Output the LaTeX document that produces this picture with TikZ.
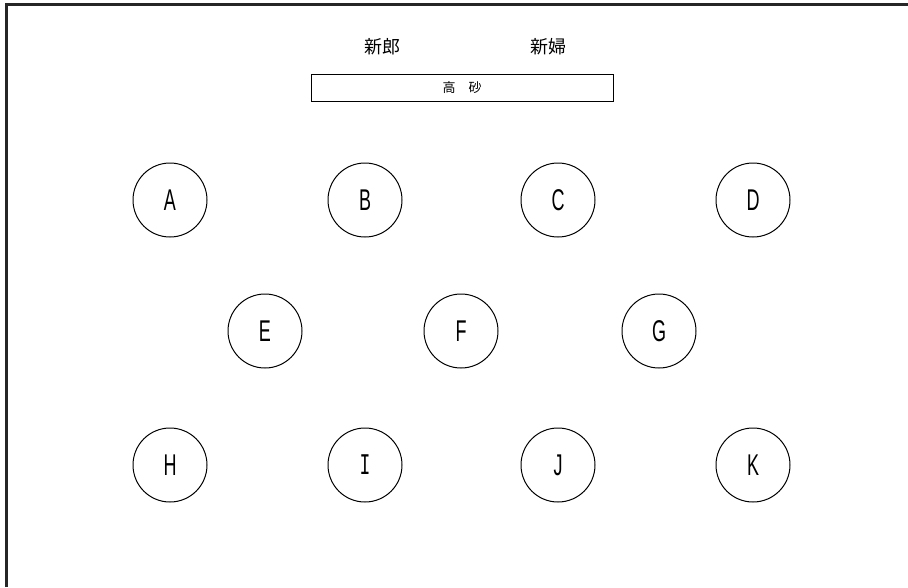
\documentclass[tikz,border=0pt]{standalone}
\usepackage{fontspec}
\newfontfamily\jp{Noto Sans CJK JP}
\newfontfamily\hand[FakeStretch=0.6]{Liberation Sans}
\newfontfamily\handmono[FakeStretch=0.6]{Liberation Mono}
\begin{document}
\begin{tikzpicture}[x=1pt,y=-1pt,
  seat/.style={circle,draw,line width=1pt,minimum size=74pt,inner sep=0pt,font=\hand\fontsize{30}{30}\selectfont},
  frameline/.style={line width=3pt,color=black!85}]
\useasboundingbox (0,0) rectangle (908,587);
\fill[white] (0,0) rectangle (908,587);
\coordinate (fl) at (6,587);
\coordinate (fc) at (6,4.5);
\coordinate (fr) at (908,4.5);
\draw[frameline] (fl) -- (fc) -- (fr);
\node[font=\jp\fontsize{18}{18}\selectfont] (groom) at (382,47) {新郎};
\node[font=\jp\fontsize{18}{18}\selectfont] (bride) at (548,47) {新婦};
\node[draw,line width=1pt,minimum width=302pt,minimum height=27pt,inner sep=0pt,font=\jp\fontsize{13}{13}\selectfont] (main) at (462,87.5) {高\hspace{1em}砂};
\node[seat] (A) at (170,200) {A};
\node[seat] (B) at (365,200) {B};
\node[seat] (C) at (558,200) {C};
\node[seat] (D) at (753,200) {D};
\node[seat] (E) at (265,331) {E};
\node[seat] (F) at (461,331) {F};
\node[seat] (G) at (659,331) {G};
\node[seat] (H) at (170,465) {H};
\node[seat,font=\handmono\fontsize{30}{30}\selectfont] (I) at (365,465) {I};
\node[seat] (J) at (558,465) {J};
\node[seat] (K) at (753,465) {K};
\end{tikzpicture}
\end{document}
